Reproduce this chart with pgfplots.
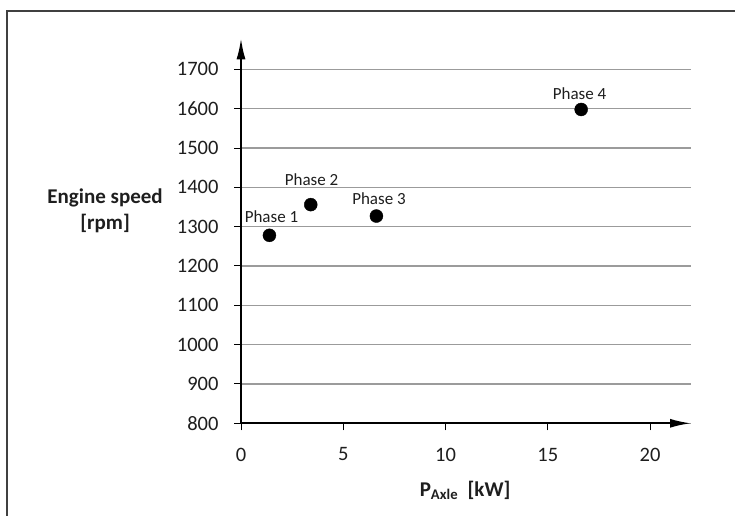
\documentclass[border=0pt]{standalone}
\usepackage{pgfplots}
\pgfplotsset{compat=1.18}
\usepackage{fontspec}
\setmainfont{Carlito}
\usetikzlibrary{arrows.meta}
\definecolor{gridgray}{RGB}{155,155,155}
\definecolor{txt}{RGB}{30,30,30}

\pgfplotstableread{
x y
1.39 1278
3.41 1356
6.62 1327
16.63 1598
}\points

\begin{document}
\begin{tikzpicture}[x=1bp,y=1bp]
\useasboundingbox (0,0) rectangle (735,516);
\draw[line width=1.5bp, color=black!75] (7,0) -- (7,505) -- (735,505);
\begin{axis}[
  at={(241bp,92.7bp)}, anchor=south west,
  scale only axis, width=450bp, height=385bp,
  xmin=0, xmax=22, ymin=800, ymax=1779,
  axis lines=left,
  axis line style={line width=2bp, -{Latex[length=21bp,width=9bp]}},
  xtick={0,5,10,15,20},
  ytick={800,900,...,1700},
  tick align=outside,
  major tick length=7bp,
  tick style={black, line width=1bp},
  ymajorgrids=true,
  major grid style={gridgray, line width=1.2bp},
  /pgf/number format/assume math mode=true,
  /pgf/number format/set thousands separator={},
  tick label style={font=\fontsize{20.5bp}{24bp}\selectfont, text=txt},
  yticklabel style={xshift=-12bp},
  xticklabel style={yshift=-14bp},
  xlabel={\textbf{P\textsubscript{Axle}\ \ [kW]}},
  xlabel style={at={(axis description cs:0.498,-0.174)}, anchor=center, font=\fontsize{21bp}{25bp}\selectfont, text=txt},
  ylabel={\textbf{Engine speed}\\\textbf{[rpm]}},
  ylabel style={rotate=-90, at={(axis description cs:-0.302,0.553)}, anchor=center, align=center, font=\fontsize{21bp}{26bp}\selectfont, text=txt},
  clip=false,
]
\addplot[only marks, mark=*, mark size=6.5bp, black] table[x=x,y=y] {\points};
\begin{scope}[every node/.style={font=\fontsize{17bp}{20bp}\selectfont, text=txt, anchor=center, inner sep=0pt}]
\node at (axis cs:1.49,1325) {Phase 1};
\node at (axis cs:3.45,1420) {Phase 2};
\node at (axis cs:6.745,1370) {Phase 3};
\node at (axis cs:16.55,1638) {Phase 4};
\end{scope}
\end{axis}
\end{tikzpicture}
\end{document}
